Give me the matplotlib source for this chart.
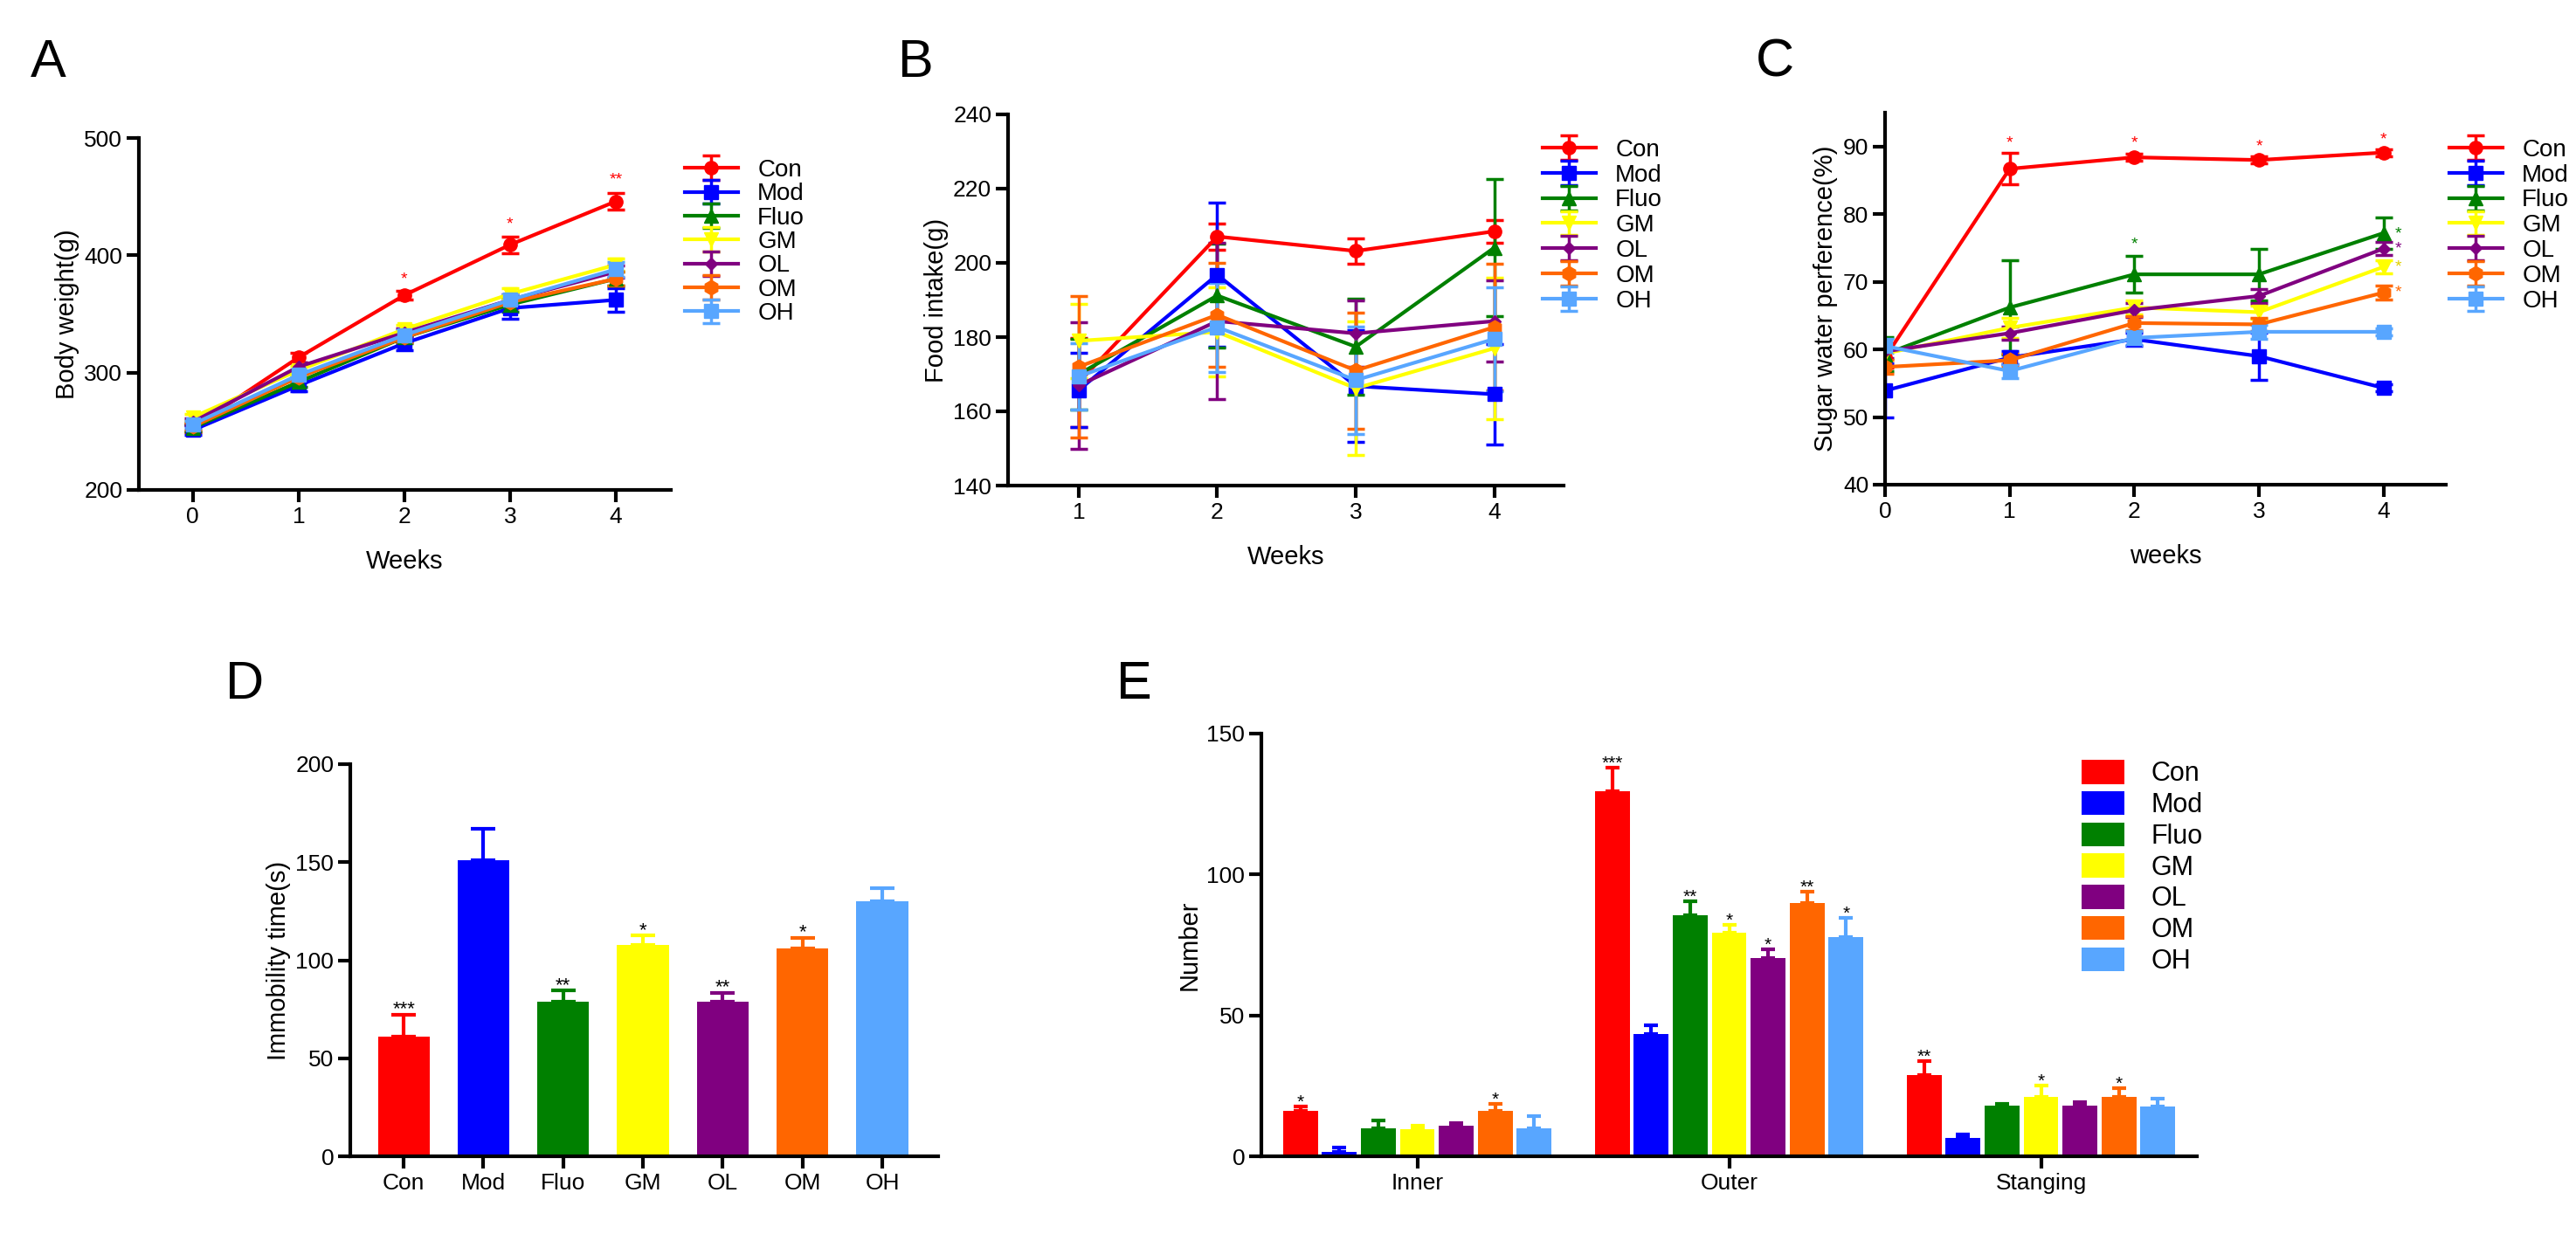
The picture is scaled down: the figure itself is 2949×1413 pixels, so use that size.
import matplotlib
matplotlib.use("Agg")
import matplotlib.pyplot as plt
import numpy as np

plt.rcParams['font.family'] = ['Liberation Sans', 'DejaVu Sans']

groups = ["Con", "Mod", "Fluo", "GM", "OL", "OM", "OH"]
colors = ["#FF0000", "#0000FF", "#008000", "#FFFF00", "#800080", "#FF6600", "#58A6FF"]
markers = ["o", "s", "^", "v", "D", "h", "s"]
msizes = [11, 11, 11, 11, 7, 12, 12]

# Panel A: body weight
weeks_a = [0, 1, 2, 3, 4]
bw = {
    "Con": [253, 313, 366, 409, 446],
    "Mod": [251, 289, 325, 355, 362],
    "Fluo": [253, 292, 330, 358, 380],
    "GM": [262, 302, 337, 367, 392],
    "OL": [258, 305, 334, 362, 386],
    "OM": [254, 296, 330, 360, 380],
    "OH": [256, 298, 332, 362, 388],
}
bw_err = {
    "Con": [4, 4, 4, 7, 7],
    "Mod": [4, 5, 6, 9, 10],
    "Fluo": [3, 4, 5, 6, 6],
    "GM": [3, 4, 4, 5, 5],
    "OL": [3, 4, 4, 5, 5],
    "OM": [3, 4, 4, 5, 6],
    "OH": [3, 4, 4, 5, 6],
}
a_stars = [(2, 373, "*"), (3, 420, "*"), (4, 458, "**")]

# Panel B: food intake
weeks_b = [1, 2, 3, 4]
fi = {
    "Con": [167.8, 207.1, 203.2, 208.5],
    "Mod": [165.7, 196.8, 166.8, 164.6],
    "Fluo": [170.0, 191.2, 177.4, 204.1],
    "GM": [179.0, 181.4, 166.2, 177.0],
    "OL": [167.0, 184.3, 181.0, 184.3],
    "OM": [172.0, 186.0, 171.0, 182.7],
    "OH": [169.4, 182.7, 168.4, 179.5],
}
fi_err = {
    "Con": [12, 3.5, 3.5, 3],
    "Mod": [10, 19.5, 15, 13.5],
    "Fluo": [9.5, 14, 13, 18.5],
    "GM": [10, 12, 18, 19],
    "OL": [17, 21, 9, 11],
    "OM": [19, 14, 15.7, 17],
    "OH": [9, 12, 14.5, 14],
}

# Panel C: sugar water preference
weeks_c = [0, 1, 2, 3, 4]
sw = {
    "Con": [58.8, 86.7, 88.4, 88.0, 89.1],
    "Mod": [53.9, 58.8, 61.5, 59.0, 54.3],
    "Fluo": [59.3, 66.2, 71.1, 71.1, 77.2],
    "GM": [59.4, 63.2, 66.2, 65.5, 72.2],
    "OL": [59.7, 62.4, 65.8, 67.9, 74.9],
    "OM": [57.4, 58.4, 63.9, 63.7, 68.4],
    "OH": [60.5, 56.8, 61.7, 62.6, 62.6],
}
sw_err = {
    "Con": [1.5, 2.3, 0.5, 0.5, 0.5],
    "Mod": [4, 1, 1, 3.5, 0.5],
    "Fluo": [2.5, 7, 2.7, 3.8, 2.3],
    "GM": [1, 1.5, 1, 1, 1],
    "OL": [1, 1, 1, 1, 1],
    "OM": [1, 1, 1, 1, 1],
    "OH": [1, 1, 1, 1, 0.5],
}
c_stars = [(1, 90.5, "*", "#FF0000"), (2, 90.5, "*", "#FF0000"), (3, 90.0, "*", "#FF0000"),
           (4, 91.0, "*", "#FF0000"), (2, 75.5, "*", "#008000"),
           (4.12, 77.0, "*", "#008000"), (4.12, 74.8, "*", "#800080"),
           (4.12, 72.2, "*", "#E0D000"), (4.12, 68.4, "*", "#FF6600")]

# Panel D: immobility time
imm = [61.2, 150.8, 79.0, 108.0, 79.0, 105.8, 130.0]
imm_err = [11.1, 16.4, 5.5, 4.5, 4.5, 5.7, 6.8]
imm_stars = ["***", "", "**", "*", "**", "*", ""]

# Panel E: open field
e_cats = ["Inner", "Outer", "Stanging"]
e_vals = {
    "Con": [16.0, 129.6, 28.8],
    "Mod": [1.7, 43.3, 6.6],
    "Fluo": [10.0, 85.5, 17.9],
    "GM": [9.5, 79.3, 21.2],
    "OL": [11.0, 70.4, 17.9],
    "OM": [16.0, 89.8, 21.2],
    "OH": [10.0, 77.9, 17.6],
}
e_err = {
    "Con": [1.6, 8.2, 4.9],
    "Mod": [1.3, 3.2, 1.0],
    "Fluo": [2.7, 5.0, 0.7],
    "GM": [1.5, 2.7, 3.8],
    "OL": [0.7, 3.2, 1.4],
    "OM": [2.6, 4.0, 3.1],
    "OH": [4.4, 6.6, 2.7],
}
e_stars = {
    "Con": ["*", "***", "**"],
    "Mod": ["", "", ""],
    "Fluo": ["", "**", ""],
    "GM": ["", "*", "*"],
    "OL": ["", "*", ""],
    "OM": ["*", "**", "*"],
    "OH": ["", "*", ""],
}

W, H = 2949, 1413
fig = plt.figure(figsize=(W / 100, H / 100), dpi=100)

TICK = 19
LAB = 21

def style(ax):
    for s in ["top", "right"]:
        ax.spines[s].set_visible(False)
    for s in ["left", "bottom"]:
        ax.spines[s].set_linewidth(3)
    ax.tick_params(width=3, length=10, labelsize=TICK)

def line_panel(ax, x, data, err):
    for g, c, m, ms in zip(groups, colors, markers, msizes):
        ax.errorbar(x, data[g], yerr=err[g], color=c, marker=m, markersize=ms,
                    lw=3, elinewidth=2.5, capsize=7, capthick=2.5, label=g)

# A
axA = fig.add_axes([159 / W, 1 - 561 / H, (768 - 159) / W, (561 - 158) / H])
line_panel(axA, weeks_a, bw, bw_err)
axA.set_xlim(-0.51, 4.52)
axA.set_ylim(200, 500)
axA.set_yticks([200, 300, 400, 500])
axA.set_xticks(weeks_a)
axA.set_xlabel("Weeks", fontsize=LAB, labelpad=18)
axA.set_ylabel("Body weight(g)", fontsize=LAB)
for x, y, t in a_stars:
    axA.text(x, y, t, color="#FF0000", ha="center", va="bottom", fontsize=14)
style(axA)
axA.legend(loc="upper left", bbox_to_anchor=(770 / W, 1 - 168 / H), bbox_transform=fig.transFigure,
           frameon=False, fontsize=20, labelspacing=0.05, handlelength=2.2, borderpad=0)

# B
axB = fig.add_axes([1154 / W, 1 - 556 / H, (1790 - 1154) / W, (556 - 131) / H])
line_panel(axB, weeks_b, fi, fi_err)
axB.set_xlim(0.49, 4.5)
axB.set_ylim(140, 240)
axB.set_yticks([140, 160, 180, 200, 220, 240])
axB.set_xticks(weeks_b)
axB.set_xlabel("Weeks", fontsize=LAB, labelpad=18)
axB.set_ylabel("Food intake(g)", fontsize=LAB)
style(axB)
axB.legend(loc="upper left", bbox_to_anchor=(1752 / W, 1 - 145 / H), bbox_transform=fig.transFigure,
           frameon=False, fontsize=20, labelspacing=0.1, handlelength=2.2, borderpad=0)

# C
axC = fig.add_axes([2158 / W, 1 - 555 / H, (2800 - 2158) / W, (555 - 129) / H])
line_panel(axC, weeks_c, sw, sw_err)
axC.set_xlim(0, 4.5)
axC.set_ylim(40, 95)
axC.set_yticks([40, 50, 60, 70, 80, 90])
axC.set_xticks(weeks_c)
axC.set_xlabel("weeks", fontsize=LAB, labelpad=18)
axC.set_ylabel("Sugar water perference(%)", fontsize=LAB)
for x, y, t, c in c_stars:
    axC.text(x, y, t, color=c, ha="center", va="center", fontsize=14)
style(axC)
axC.legend(loc="upper left", bbox_to_anchor=(2790 / W, 1 - 145 / H), bbox_transform=fig.transFigure,
           frameon=False, fontsize=20, labelspacing=0.1, handlelength=2.2, borderpad=0)

# D
axD = fig.add_axes([401 / W, 1 - 1324 / H, (1074 - 401) / W, (1324 - 875) / H])
xd = np.arange(len(groups))
axD.bar(xd, imm, width=0.65, color=colors)
for i in range(len(groups)):
    axD.errorbar(xd[i], imm[i], yerr=[[0], [imm_err[i]]], color=colors[i], lw=0,
                 elinewidth=3, capsize=10, capthick=3)
    if imm_stars[i]:
        axD.text(xd[i], imm[i] + imm_err[i] - 2, imm_stars[i], ha="center", va="bottom", fontsize=16)
axD.set_xlim(-0.67, 6.7)
axD.set_ylim(0, 200)
axD.set_yticks([0, 50, 100, 150, 200])
axD.set_xticks(xd)
axD.set_xticklabels(groups)
axD.set_ylabel("Immobility time(s)", fontsize=LAB)
style(axD)

# E
axE = fig.add_axes([1444 / W, 1 - 1324 / H, (2515 - 1444) / W, (1324 - 840) / H])
xe = np.arange(len(e_cats))
slot = 0.125
for j, (g, c) in enumerate(zip(groups, colors)):
    pos = xe + (j - 3) * slot
    axE.bar(pos, e_vals[g], width=0.112, color=c, label=g)
    axE.errorbar(pos, e_vals[g], yerr=[np.zeros(3), e_err[g]], color=c, lw=0,
                 elinewidth=3, capsize=6, capthick=3)
    for k in range(3):
        if e_stars[g][k]:
            axE.text(pos[k], e_vals[g][k] + e_err[g][k] - 1.5, e_stars[g][k],
                     ha="center", va="bottom", fontsize=15)
axE.set_xlim(-0.5, 2.5)
axE.set_ylim(0, 150)
axE.set_yticks([0, 50, 100, 150])
axE.set_xticks(xe)
axE.set_xticklabels(e_cats)
axE.set_ylabel("Number", fontsize=LAB)
style(axE)
axE.legend(loc="upper left", bbox_to_anchor=(2368 / W, 1 - 855 / H), bbox_transform=fig.transFigure,
           frameon=False, fontsize=22, labelspacing=0.15, handlelength=1.6, handleheight=1.0,
           handletextpad=1.0, borderpad=0)

for lbl, x, y in [("A", 35, 88), ("B", 1028, 88), ("C", 2010, 88), ("D", 258, 800), ("E", 1278, 800)]:
    fig.text(x / W, 1 - y / H, lbl, fontsize=44, ha="left", va="baseline")

fig.savefig("out.png", dpi=100, facecolor="white")
